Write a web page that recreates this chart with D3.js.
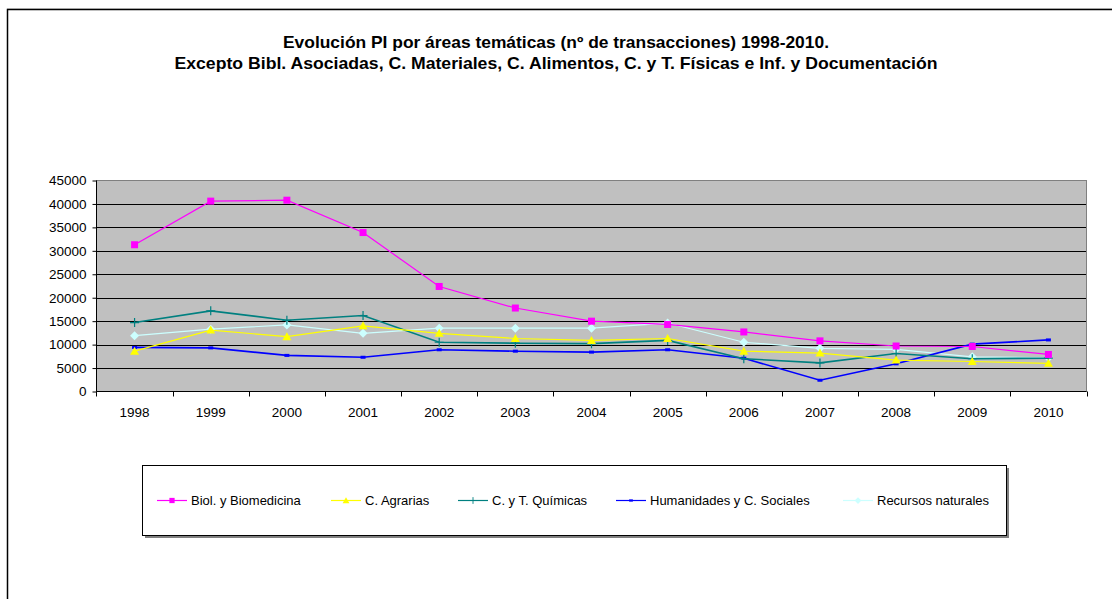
<!DOCTYPE html>
<html><head><meta charset="utf-8">
<script src="https://cdn.jsdelivr.net/npm/d3@7"></script>
<style>body{margin:0;background:#fff}svg{display:block;font-family:"Liberation Sans",Arial,sans-serif}</style>
</head><body><svg id="c" width="1112" height="599"></svg>
<script>
const years = ["1998","1999","2000","2001","2002","2003","2004","2005","2006","2007","2008","2009","2010"];
const biol = [31300,40600,40800,33900,22400,17800,15000,14300,12700,10800,9700,9600,7900];
const agrarias = [8600,13100,11700,14000,12400,11300,10900,11300,8600,8200,6700,6400,6000];
const quimicas = [14700,17200,15200,16200,10500,10300,10200,10900,7000,6100,8100,7000,7100];
const humanidades = [9400,9300,7700,7300,8900,8600,8400,8900,7100,2400,5900,10100,11000];
const recursos = [11900,13300,14200,12400,13500,13500,13500,14600,10500,9200,9000,7400,7200];
const seriesNames = ["Biol. y Biomedicina","C. Agrarias","C. y T. Químicas","Humanidades y C. Sociales","Recursos naturales"];
const yTicks = [0,5000,10000,15000,20000,25000,30000,35000,40000,45000];
const titleLines = ["Evolución PI por áreas temáticas (nº de transacciones) 1998-2010.","Excepto Bibl. Asociadas, C. Materiales, C. Alimentos, C. y T. Físicas e Inf. y Documentación"];

const seriesData = [biol, agrarias, quimicas, humanidades, recursos];
const colors = ["#FF00FF","#FFFF00","#008080","#0000FF","#CCFFFF"];
const markers = ["square","triangle","plus","dash","diamond"];

const svg = d3.select("#c");
svg.append("line").attr("x1",7).attr("x2",1112).attr("y1",8.5).attr("y2",8.5).attr("stroke","#ddd");
svg.append("rect").attr("x",7.5).attr("y",9.5).attr("width",1200).attr("height",700)
  .attr("fill","none").attr("stroke","#000").attr("stroke-width",1.5);

const L=96.5, R=1086.5, T=180.5, B=391.5;
const x = d3.scaleBand().domain(years).range([L,R]);
const y = d3.scaleLinear().domain([0,45000]).range([B,T]);

svg.append("rect").attr("x",L).attr("y",T).attr("width",R-L).attr("height",B-T).attr("fill","#C0C0C0");
svg.append("g").selectAll("line").data(yTicks.slice(1,-1)).join("line")
  .attr("x1",L).attr("x2",R).attr("y1",d=>Math.round(y(d))+0.5).attr("y2",d=>Math.round(y(d))+0.5)
  .attr("stroke","#000").attr("stroke-width",1);
svg.append("rect").attr("x",L).attr("y",T).attr("width",R-L).attr("height",B-T)
  .attr("fill","none").attr("stroke","#808080").attr("stroke-width",1);

const yAxis = d3.axisLeft(y).tickValues(yTicks).tickSize(4).tickPadding(6).tickFormat(d=>d);
const gy = svg.append("g").attr("transform",`translate(${L},0)`).call(yAxis);
gy.selectAll("text").attr("font-size","13.5px").attr("fill","#000").attr("font-family","'Liberation Sans',Arial,sans-serif");
gy.selectAll("line,path").attr("stroke","#000");
gy.select(".domain").remove();
svg.append("line").attr("x1",L).attr("x2",L).attr("y1",T).attr("y2",B).attr("stroke","#000");

const gx = svg.append("g").attr("transform",`translate(0,${B})`);
gx.append("line").attr("x1",L).attr("x2",R).attr("y1",0).attr("y2",0).attr("stroke","#000");
const bounds = years.map(d=>x(d)).concat([R]);
gx.selectAll("line.t").data(bounds).join("line").attr("class","t")
  .attr("x1",d=>Math.round(d)+0.5).attr("x2",d=>Math.round(d)+0.5).attr("y1",0).attr("y2",5).attr("stroke","#000");
gx.selectAll("text").data(years).join("text")
  .attr("x",d=>x(d)+x.bandwidth()/2).attr("y",25.5).attr("text-anchor","middle")
  .attr("font-size","13.5px").attr("fill","#000").text(d=>d);

function drawMarker(g, type, color, cx, cy){
  if(type==="square"){
    g.append("rect").attr("x",cx-3.5).attr("y",cy-3.5).attr("width",7).attr("height",7).attr("fill",color);
  } else if(type==="triangle"){
    g.append("path").attr("d",`M${cx},${cy-4.5}L${cx+4.5},${cy+3.5}L${cx-4.5},${cy+3.5}Z`).attr("fill",color);
  } else if(type==="plus"){
    g.append("path").attr("d",`M${cx-4.5},${cy}H${cx+4.5}M${cx},${cy-4.5}V${cy+4.5}`).attr("stroke",color).attr("stroke-width",1.2).attr("fill","none");
  } else if(type==="dash"){
    g.append("rect").attr("x",cx-2.5).attr("y",cy-1.5).attr("width",5).attr("height",3).attr("fill",color);
  } else if(type==="diamond"){
    g.append("path").attr("d",`M${cx},${cy-4.5}L${cx+4.5},${cy}L${cx},${cy+4.5}L${cx-4.5},${cy}Z`).attr("fill",color);
  }
}

const line = d3.line().x((d,i)=>x(years[i])+x.bandwidth()/2).y(d=>y(d));
const order=[4,3,2,1,0];
order.forEach(si=>{
  const g = svg.append("g");
  g.append("path").datum(seriesData[si]).attr("d",line).attr("fill","none")
    .attr("stroke",colors[si]).attr("stroke-width",si===3||si===2?1.6:1.2);
  seriesData[si].forEach((v,i)=>drawMarker(g,markers[si],colors[si],x(years[i])+x.bandwidth()/2,y(v)));
});

const titleW=[546,763];
titleLines.forEach((t,i)=>{
  svg.append("text").attr("x",556).attr("y",47.5+i*21).attr("text-anchor","middle")
    .attr("font-size","16.5px").attr("font-weight","bold").attr("fill","#000")
    .attr("textLength",titleW[i]).attr("lengthAdjust","spacingAndGlyphs").text(t);
});

svg.append("rect").attr("x",145).attr("y",468).attr("width",864).attr("height",70).attr("fill","#808080");
svg.append("rect").attr("x",142.5).attr("y",465.5).attr("width",864).attr("height",70).attr("fill","#fff").attr("stroke","#000");
const legX = [157,331,458,616,843];
seriesNames.forEach((n,i)=>{
  const g = svg.append("g");
  const ly = 500.5;
  g.append("line").attr("x1",legX[i]).attr("x2",legX[i]+30).attr("y1",ly).attr("y2",ly).attr("stroke",colors[i]).attr("stroke-width",1.2);
  const mg = g.append("g").attr("transform",`translate(${legX[i]+15},${ly}) scale(0.75)`);
  drawMarker(mg,markers[i],colors[i],0,0);
  g.append("text").attr("x",legX[i]+34).attr("y",ly+4.5).attr("font-size","13px").attr("fill","#000").text(n);
});
</script></body></html>
